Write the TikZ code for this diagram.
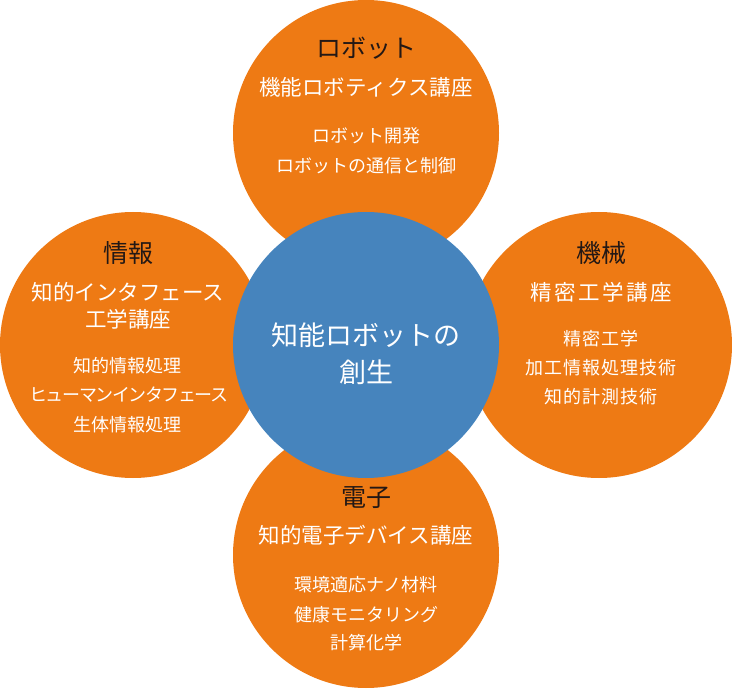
\documentclass[tikz,border=0pt]{standalone}
\usepackage{fontspec}
\setmainfont{Noto Sans CJK JP}
\definecolor{orng}{HTML}{EE7A14}
\definecolor{blu}{HTML}{4684BD}
\definecolor{ink}{HTML}{231815}
\tikzset{
  bub/.style={circle, fill=orng, minimum size=266pt, inner sep=0pt},
  core/.style={circle, fill=blu, minimum size=266pt, inner sep=0pt},
  head/.style={text=ink, font=\fontsize{25}{28}\selectfont, inner sep=0pt},
  sub/.style={text=white, font=\fontsize{21.5}{24}\selectfont, inner sep=0pt},
  item/.style={text=white, font=\fontsize{18}{20}\selectfont, inner sep=0pt},
  mid/.style={text=white, font=\fontsize{27}{30}\selectfont, inner sep=0pt},
}
\begin{document}
\begin{tikzpicture}[x=1pt,y=-1pt]
\useasboundingbox (0,0) rectangle (732,690);
% orange circles
\node[bub] (top) at (366,133) {};
\node[bub] (left) at (133,345) {};
\node[bub] (right) at (599,345) {};
\node[bub] (bottom) at (366,555) {};
% blue centre
\node[core] (centre) at (366,345) {};
% top texts
\node[head] (topH) at (366,48) {ロボット};
\node[sub] (topS) at (366,87) {機能ロボティクス講座};
\node[item] (topI1) at (366,136) {ロボット開発};
\node[item] (topI2) at (366,166) {ロボットの通信と制御};
% left texts
\node[head] (leftH) at (128,253) {情報};
\node[sub] (leftS1) at (128,292) {知的インタフェース};
\node[sub] (leftS2) at (128,319) {工学講座};
\node[item] (leftI1) at (128,366) {知的情報処理};
\node[item] (leftI2) at (129,395) {\addfontfeature{LetterSpace=-8}ヒューマンインタフェース};
\node[item] (leftI3) at (128,425) {生体情報処理};
% right texts
\node[head] (rightH) at (601,253) {機械};
\node[sub] (rightS) at (601,292) {\addfontfeature{LetterSpace=12}精密工学講座};
\node[item] (rightI1) at (601,339) {\addfontfeature{LetterSpace=6}精密工学};
\node[item] (rightI2) at (601,368) {\addfontfeature{LetterSpace=6}加工情報処理技術};
\node[item] (rightI3) at (601,397) {\addfontfeature{LetterSpace=6}知的計測技術};
% bottom texts
\node[head] (botH) at (366,498) {電子};
\node[sub] (botS) at (366,535) {知的電子デバイス講座};
\node[item] (botI1) at (366,585) {環境適応ナノ材料};
\node[item] (botI2) at (366,615) {健康モニタリング};
\node[item] (botI3) at (366,643) {計算化学};
% centre texts
\node[mid] (midA) at (366,335) {知能ロボットの};
\node[mid] (midB) at (366,372) {創生};
\end{tikzpicture}
\end{document}
